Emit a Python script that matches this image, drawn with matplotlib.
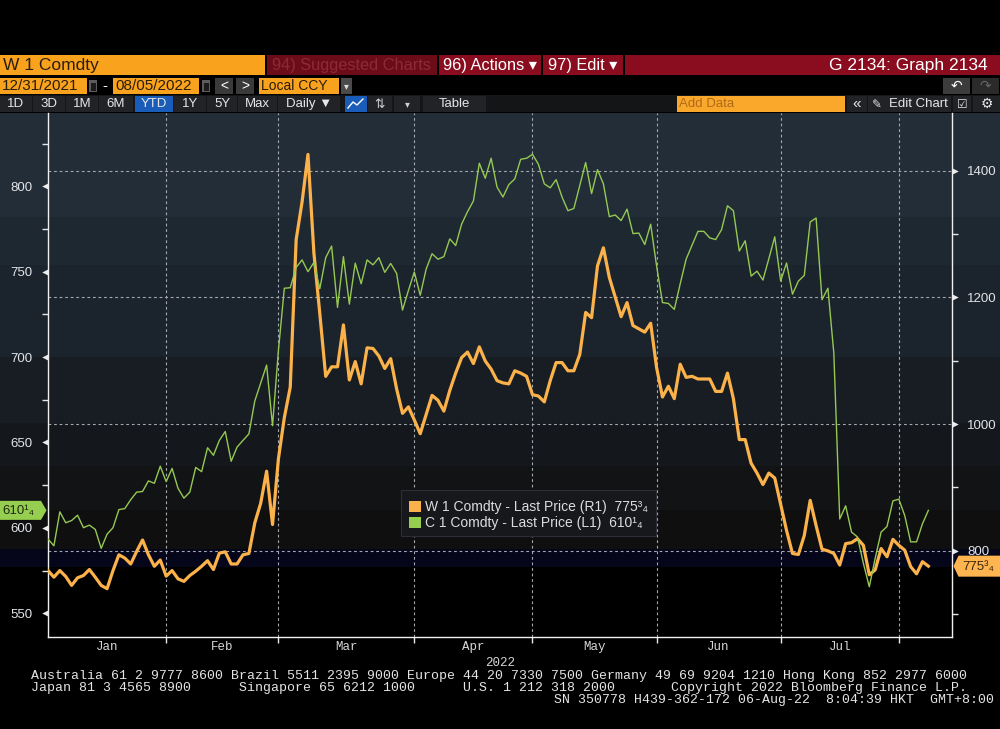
import numpy as np
import pandas as pd
import matplotlib
matplotlib.use('Agg')
import matplotlib.pyplot as plt
from matplotlib.patches import Rectangle, Polygon
from matplotlib.lines import Line2D
from matplotlib.path import Path
from matplotlib.transforms import blended_transform_factory

W_PX, H_PX = 1000, 729

# ---------------- data ----------------
start_date = '2021-12-31'
end_date = '2022-08-05'
exchange_holidays = ['2022-01-17', '2022-02-21', '2022-04-15',
                     '2022-05-30', '2022-06-20', '2022-07-04']

# W 1 Comdty (wheat) - right axis
wheat_w1 = [
    768.8, 758.4, 768.8, 759.5, 745.4, 757.4, 761.0, 770.4, 758.4, 745.4,
    740.2, 768.8, 793.7, 788.5, 779.2, 798.9, 817.1, 793.7, 775.6, 785.4,
    760.0, 768.8, 755.8, 751.7, 761.0, 767.8, 775.6, 784.4, 770.4, 796.3,
    798.4, 779.2, 779.2, 793.7, 795.8, 844.1, 875.3, 925.7, 841.5, 945.4,
    1010.4, 1058.4, 1291.3, 1350.8, 1425.9, 1270.6, 1174.8, 1075.5, 1090.5, 1090.5,
    1156.7, 1069.8, 1098.8, 1063.6, 1120.5, 1119.5, 1107.6, 1087.9, 1103.4, 1055.8,
    1017.0, 1027.3, 1006.6, 984.9, 1015.4, 1045.4, 1037.7, 1020.6, 1053.2, 1080.6,
    1105.0, 1113.8, 1095.7, 1122.0, 1099.8, 1086.9, 1068.7, 1065.1, 1063.6, 1084.3,
    1080.6, 1075.5, 1046.5, 1044.4, 1035.1, 1068.7, 1097.2, 1097.2, 1084.3, 1084.3,
    1110.1, 1176.4, 1168.1, 1249.9, 1278.4, 1231.8, 1200.7, 1169.7, 1191.9, 1155.7,
    1150.5, 1145.3, 1159.3, 1089.4, 1042.9, 1059.9, 1040.3, 1094.6, 1073.9, 1075.5,
    1071.3, 1071.3, 1071.3, 1051.7, 1051.7, 1080.6, 1040.3, 975.6, 975.6, 938.3,
    922.7, 904.6, 922.7, 914.9, 873.5, 832.0, 795.8, 794.2, 824.3, 879.7,
    839.8, 802.5, 799.9, 795.8, 777.6, 811.3, 812.9, 819.1, 808.7, 762.1,
    769.9, 803.6, 790.6, 818.1, 808.7, 801.0, 775.1, 763.7, 782.8, 775.75,
]

# C 1 Comdty (corn) - left axis
corn_c1 = [
    593.4, 589.5, 609.4, 603.0, 604.3, 607.4, 600.1, 601.6, 599.1, 588.0,
    596.3, 600.1, 610.7, 611.3, 616.5, 620.9, 621.3, 627.5, 626.1, 636.1,
    627.1, 634.8, 623.2, 617.4, 620.9, 635.4, 632.9, 646.9, 642.5, 651.2,
    656.4, 639.0, 647.3, 651.2, 655.0, 674.3, 684.9, 695.3, 659.8, 704.0,
    740.3, 740.6, 752.5, 756.9, 750.0, 755.4, 740.0, 758.2, 765.0, 729.1,
    758.8, 731.0, 755.0, 742.9, 756.9, 754.0, 758.2, 749.6, 754.8, 749.0,
    727.5, 739.0, 749.8, 736.2, 751.5, 760.5, 757.3, 758.8, 769.2, 765.3,
    777.8, 785.1, 791.4, 813.5, 804.7, 816.4, 799.5, 793.7, 801.0, 804.3,
    815.8, 816.4, 818.7, 812.9, 801.4, 799.1, 803.9, 793.7, 785.7, 787.0,
    800.5, 813.9, 795.7, 809.7, 801.4, 782.2, 783.2, 779.9, 786.6, 772.3,
    772.6, 765.9, 777.8, 753.4, 731.9, 731.4, 727.9, 742.9, 757.3, 765.5,
    773.6, 773.6, 769.8, 768.8, 774.6, 788.6, 785.7, 762.1, 768.1, 747.4,
    750.3, 745.1, 757.6, 770.4, 744.5, 755.1, 736.8, 744.5, 747.8, 779.1,
    781.4, 733.6, 740.3, 702.2, 605.2, 612.9, 597.5, 594.7, 579.3, 565.5,
    582.2, 597.5, 600.8, 615.8, 616.8, 607.2, 591.8, 591.8, 602.4, 610.25,
]

month_labels = ['Jan', 'Feb', 'Mar', 'Apr', 'May', 'Jun', 'Jul']
year_label = '2022'
corn_ticks = [550, 600, 650, 700, 750, 800]
corn_minor_ticks = [575, 625, 675, 725, 775, 825]
wheat_ticks = [800, 1000, 1200, 1400]
wheat_minor_ticks = [700, 900, 1100, 1300]
wheat_last_label = '775³₄'
corn_last_label = '610¹₄'
legend_labels = ['W 1 Comdty - Last Price (R1)  775³₄',
                 'C 1 Comdty - Last Price (L1)  610¹₄']

# ---------------- x positions (trading days) ----------------
dates = pd.bdate_range(start_date, end_date)
dates = dates[~dates.isin(pd.to_datetime(exchange_holidays))]
x = np.arange(len(dates))
months = np.asarray(dates.month)
month_end_idx = [int(x[months == m][-1]) for m in range(1, 8)]
bounds = [0] + month_end_idx
month_mid = [(bounds[i] + bounds[i + 1]) / 2 for i in range(7)]

# ---------------- styling ----------------
ORANGE = '#fbb24a'
GREEN = '#96c853'
TXT = '#e2e5e9'
SANS = ['Liberation Sans', 'DejaVu Sans']
MONO = ['Liberation Mono', 'DejaVu Sans Mono']
plt.rcParams['font.family'] = SANS

fig = plt.figure(figsize=(W_PX / 100, H_PX / 100), dpi=100, facecolor='black')


def rect(x0, y0, x1, y1, color, z=-5, **kw):
    r = Rectangle((x0 / W_PX, 1 - y1 / H_PX), (x1 - x0) / W_PX, (y1 - y0) / H_PX,
                  transform=fig.transFigure, facecolor=color, zorder=z,
                  linewidth=kw.pop('lw', 0), **kw)
    fig.add_artist(r)
    return r


def ftext(xp, yp, s, **kw):
    kw.setdefault('va', 'center')
    kw.setdefault('zorder', 12)
    return fig.text(xp / W_PX, 1 - yp / H_PX, s, **kw)


def poly(pts, color, z=11, **kw):
    p = Polygon([(a / W_PX, 1 - b / H_PX) for a, b in pts], closed=True,
                transform=fig.transFigure, facecolor=color, zorder=z, **kw)
    fig.add_artist(p)


# ---------------- chart background bands ----------------
bands = [(113, 217, '#222d37'), (217, 265, '#1e2831'), (265, 357, '#1b232c'),
         (357, 423, '#171d23'), (423, 466, '#14181c'), (466, 510, '#121315'),
         (510, 549, '#0f0f10'), (549, 567, '#05061a'), (567, 640, '#000000')]
for y0, y1, c in bands:
    rect(0, y0, 1000, y1, c, z=-20)

# ---------------- header ----------------
# row 1
rect(0, 55, 265, 75, '#f9a21d', z=-4)
ftext(3, 65.5, 'W 1 Comdty', color='#2a1d0c', fontsize=12.5)
rect(267, 55, 437, 75, '#6c0c18', z=-4)
ftext(272, 65.5, '94) Suggested Charts', color='#8e2a35', fontsize=11.8)
rect(439, 55, 541, 75, '#8a0d1f', z=-4)
ftext(443, 65.5, '96) Actions \u25be', color='white', fontsize=11.8)
rect(543, 55, 623, 75, '#8a0d1f', z=-4)
ftext(548, 65.5, '97) Edit \u25be', color='white', fontsize=11.8)
rect(625, 55, 1000, 75, '#8a0d1f', z=-4)
ftext(988, 65.5, 'G 2134: Graph 2134', color='white', fontsize=12.5, ha='right')

# row 2
rect(0, 78, 87, 94, '#f9a21d', z=-4)
ftext(2, 86.5, '12/31/2021', color='#2a1d0c', fontsize=11)
rect(89, 80, 97, 92, '#5c5c5c', z=-4)
rect(90.5, 83.5, 95.5, 90.5, '#1b1b1b', z=-3)
ftext(102, 86, '-', color='white', fontsize=11)
rect(113, 78, 199, 94, '#f9a21d', z=-4)
ftext(115, 86.5, '08/05/2022', color='#2a1d0c', fontsize=11)
rect(202, 80, 210, 92, '#5c5c5c', z=-4)
rect(203.5, 83.5, 208.5, 90.5, '#1b1b1b', z=-3)
rect(215, 78, 233, 94, '#3a3a3a', z=-4)
ftext(224, 86, '<', color='white', fontsize=10, ha='center')
rect(236, 78, 254, 94, '#3a3a3a', z=-4)
ftext(245, 86, '>', color='white', fontsize=10, ha='center')
rect(259, 78, 339, 94, '#f9a21d', z=-4)
ftext(261, 86.5, 'Local CCY', color='#2a1d0c', fontsize=10)
rect(341, 78, 352, 94, '#4a4a4a', z=-4)
ftext(346.5, 86, '\u25be', color='#dddddd', fontsize=7, ha='center')
rect(943, 78, 970, 94, '#3c3c3c', z=-4)
ftext(956.5, 86, '\u21b6', color='white', fontsize=10, ha='center', family='DejaVu Sans')
rect(972, 78, 999, 94, '#2a2a2a', z=-4)
ftext(985.5, 86, '\u21b7', color='#666666', fontsize=10, ha='center', family='DejaVu Sans')

# row 3
rect(0, 95, 1000, 112, '#141516', z=-4)
buttons = [(0, 32, '1D'), (33, 65, '3D'), (66, 98, '1M'), (99, 133, '6M'),
           (135, 173, 'YTD'), (174, 206, '1Y'), (207, 237, '5Y'), (238, 277, 'Max'),
           (278, 340, 'Daily \u25bc'), (423, 486, 'Table')]
for b0, b1, lab in buttons:
    rect(b0, 96, b1, 112, '#1a5db8' if lab == 'YTD' else '#222326', z=-3)
    ftext((b0 + b1) / 2, 104, lab, color='#e6e6e6', fontsize=9.5, ha='center')
rect(345, 96, 367, 112, '#1a5db8', z=-3)
fig.add_artist(Line2D([348 / W_PX, 353 / W_PX, 357 / W_PX, 363 / W_PX],
                      [1 - 108 / H_PX, 1 - 102 / H_PX, 1 - 105 / H_PX, 1 - 99 / H_PX],
                      transform=fig.transFigure, color='white', lw=1, zorder=-2))
rect(368, 96, 392, 112, '#222326', z=-3)
ftext(380, 104, '\u21c5', color='#cfcfcf', fontsize=9, ha='center', family='DejaVu Sans')
rect(394, 96, 420, 112, '#222326', z=-3)
ftext(407, 104, '\u25be', color='#cfcfcf', fontsize=7, ha='center')
rect(677, 96, 845, 112, '#f9a82b', z=-3)
ftext(679, 104, 'Add Data', color='#b06a18', fontsize=9.5)
rect(847, 96, 867, 112, '#222326', z=-3)
ftext(857, 104, '\u00ab', color='#e6e6e6', fontsize=11, ha='center')
rect(868, 96, 951, 112, '#222326', z=-3)
ftext(872, 104, '\u270e', color='#e6e6e6', fontsize=8.5, family='DejaVu Sans')
ftext(889, 104, 'Edit Chart', color='#e6e6e6', fontsize=9.5)
rect(953, 96, 971, 112, '#222326', z=-3)
ftext(962, 104, '\u2611', color='#e6e6e6', fontsize=8.5, ha='center', family='DejaVu Sans')
rect(973, 96, 1000, 112, '#222326', z=-3)
ftext(987, 104, '\u2699', color='#e6e6e6', fontsize=10, ha='center', family='DejaVu Sans')

# ---------------- axes ----------------
axW = fig.add_axes([48 / W_PX, 1 - 637 / H_PX, 904 / W_PX, 524 / H_PX])
axC = axW.twinx()
axW.patch.set_visible(False)
axC.patch.set_visible(False)

axW.plot(x, wheat_w1, color=ORANGE, lw=2.3, solid_joinstyle='round', zorder=3)
axC.plot(x, corn_c1, color=GREEN, lw=1.0, zorder=3)

axW.set_xlim(0, 153.0)
axW.set_ylim(663.9, 1491.3)
axC.set_ylim(536.1, 842.9)

# y axes
axW.yaxis.tick_right()
axC.yaxis.tick_left()
axW.set_yticks(wheat_ticks)
axW.set_yticks(wheat_minor_ticks, minor=True)
axC.set_yticks(corn_ticks)
axC.set_yticks(corn_minor_ticks, minor=True)
for a in (axW, axC):
    a.tick_params(axis='y', which='major', length=0, pad=11, labelsize=9.5, labelcolor=TXT)
    a.tick_params(axis='y', which='minor', length=4.5, width=1, color='#e6e6e6', direction='out')
axW.tick_params(axis='y', which='both', left=False, labelleft=False, right=True, labelright=True)
axC.tick_params(axis='y', which='both', right=False, labelright=False, left=True, labelleft=True)

# triangle tick markers
tri_left = Path([(0, 0.55), (0, -0.55), (-1.1, 0), (0, 0.55)],
                [Path.MOVETO, Path.LINETO, Path.LINETO, Path.CLOSEPOLY])
tri_right = Path([(0, 0.55), (0, -0.55), (1.1, 0), (0, 0.55)],
                 [Path.MOVETO, Path.LINETO, Path.LINETO, Path.CLOSEPOLY])
axC.plot([0] * len(corn_ticks), corn_ticks, linestyle='none', marker=tri_left,
         markersize=9, color='#ececec', markeredgewidth=0, clip_on=False,
         transform=blended_transform_factory(axC.transAxes, axC.transData), zorder=6)
axW.plot([1] * len(wheat_ticks), wheat_ticks, linestyle='none', marker=tri_right,
         markersize=9, color='#ececec', markeredgewidth=0, clip_on=False,
         transform=blended_transform_factory(axW.transAxes, axW.transData), zorder=6)

# x axis
axW.set_xticks(month_end_idx)
axW.set_xticklabels([''] * len(month_end_idx))
axW.set_xticks(month_mid, minor=True)
axW.set_xticklabels(month_labels, minor=True, family=MONO, fontsize=9, color='#d6d6d6')
axW.tick_params(axis='x', which='major', length=4, width=1, color='#e6e6e6', direction='out')
axW.tick_params(axis='x', which='minor', length=0, pad=3)

# grid
grid_kw = dict(color='#a3a8ae', lw=0.8, linestyle=(0, (2.5, 2.5)))
axW.grid(True, which='major', axis='both', **grid_kw)
axW.set_axisbelow(True)

# spines
for a in (axW, axC):
    for s in a.spines.values():
        s.set_visible(False)
for s in ('left', 'right', 'bottom'):
    axW.spines[s].set_visible(True)
    axW.spines[s].set_color('#f0f0f0')
    axW.spines[s].set_linewidth(1.0)

# ---------------- value tags ----------------
yc_c = H_PX - axC.transData.transform((0, corn_c1[-1]))[1]
poly([(0, yc_c - 9.5), (41, yc_c - 9.5), (46.5, yc_c), (41, yc_c + 9.5), (0, yc_c + 9.5)],
     '#96cf4f')
ftext(2.5, yc_c + 0.5, corn_last_label, color='#1f2b12', fontsize=9.5, family=SANS)

yc_w = H_PX - axW.transData.transform((0, wheat_w1[-1]))[1]
poly([(953.5, yc_w), (958.5, yc_w - 10.5), (1000, yc_w - 10.5), (1000, yc_w + 10.5),
      (958.5, yc_w + 10.5)], '#ffb54f')
ftext(962, yc_w + 0.5, wheat_last_label, color='#3a2608', fontsize=9.5, family=SANS)

# ---------------- legend ----------------
rect(401, 490, 656, 536, '#16181c', z=10, edgecolor='#2c2f35', lw=0.8)
rect(409, 500.5, 421, 512, ORANGE, z=11)
rect(409, 516.5, 421, 528, '#96cf4f', z=11)
ftext(425, 506.5, legend_labels[0], color='#dcdcdc', fontsize=10, family=SANS)
ftext(425, 522.5, legend_labels[1], color='#dcdcdc', fontsize=10, family=SANS)

# ---------------- footer ----------------
ftext(500, 663, year_label, color='#d6d6d6', fontsize=9, family=MONO, ha='center')
FOOT = dict(color='#e4e4e4', fontsize=9.55, family=MONO)
ftext(31, 676, 'Australia 61 2 9777 8600 Brazil 5511 2395 9000 Europe 44 20 7330 7500 '
               'Germany 49 69 9204 1210 Hong Kong 852 2977 6000', **FOOT)
ftext(31, 688, 'Japan 81 3 4565 8900', **FOOT)
ftext(239, 688, 'Singapore 65 6212 1000', **FOOT)
ftext(463, 688, 'U.S. 1 212 318 2000', **FOOT)
ftext(967, 688, 'Copyright 2022 Bloomberg Finance L.P.', ha='right', **FOOT)
ftext(994, 700, 'SN 350778 H439-362-172 06-Aug-22  8:04:39 HKT  GMT+8:00', ha='right', **FOOT)

fig.savefig('out.png', dpi=100, facecolor='black')
